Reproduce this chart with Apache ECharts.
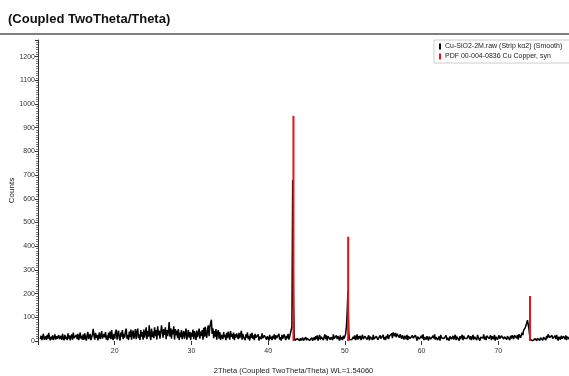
<!DOCTYPE html>
<html>
<head>
<meta charset="utf-8">
<script src="https://cdn.jsdelivr.net/npm/echarts@6/dist/echarts.min.js"></script>
<style>
html, body { margin: 0; padding: 0; background: #fff; }
#chart { width: 569px; height: 376px; }
</style>
</head>
<body>
<div id="chart"></div>
<script>
// scan grid: 2Theta starts at 10.3 deg, step 0.1 deg
var scanStart = 10.3;
var scanStep = 0.1;
// counts, one row per degree (.0 ... .9)
var counts = [
    8, 22, 4, 18, 30, 6, 14,                    // 10 (from 10.3)
    20, 5, 26, 10, 34, 12, 3, 18, 7, 24,        // 11
    4, 16, 28, 6, 20, 10, 2, 25, 8, 14,         // 12
    22, 5, 30, 12, 3, 26, 9, 18, 4, 32,         // 13
    10, 24, 3, 18, 28, 6, 35, 12, 4, 20,        // 14
    26, 8, 30, 4, 16, 36, 10, 22, 5, 28,        // 15
    6, 32, 14, 2, 24, 38, 8, 18, 30, 4,         // 16
    12, 28, 51, 20, 6, 34, 14, 26, 3, 18,       // 17
    36, 8, 22, 42, 10, 4, 30, 16, 38, 6,        // 18
    24, 3, 34, 12, 40, 8, 46, 14, 4, 30,        // 19
    10, 38, 48, 6, 30, 44, 12, 2, 36, 18,       // 20
    46, 8, 30, 14, 42, 52, 10, 26, 4, 40,       // 21
    16, 48, 6, 34, 44, 10, 24, 50, 8, 36,       // 22
    52, 12, 28, 4, 46, 18, 38, 6, 48, 14,       // 23
    34, 58, 8, 42, 18, 66, 26, 4, 52, 16,       // 24
    40, 12, 58, 20, 46, 6, 62, 24, 44, 10,      // 25
    36, 66, 72, 14, 50, 26, 58, 8, 46, 20,      // 26
    42, 80, 18, 54, 10, 48, 28, 62, 6, 50,      // 27
    24, 44, 12, 50, 4, 36, 16, 46, 8, 30,       // 28
    42, 10, 32, 52, 6, 26, 46, 14, 38, 4,       // 29
    36, 18, 48, 8, 42, 28, 4, 44, 16, 32,       // 30
    52, 10, 40, 22, 46, 6, 56, 18, 60, 26,      // 31
    14, 50, 66, 20, 58, 74, 90, 30, 54, 12,     // 32
    42, 18, 50, 6, 34, 46, 10, 38, 4, 26,       // 33
    30, 8, 38, 16, 26, 4, 34, 12, 40, 20,       // 34
    6, 42, 18, 30, 10, 36, 4, 28, 14, 32,       // 35
    20, 8, 34, 12, 26, 43, 6, 30, 16, 24,       // 36
    4, 28, 14, 36, 8, 22, 2, 30, 12, 34,        // 37
    10, 24, 4, 30, 14, 20, 6, 28, 2, 18,        // 38
    26, 8, 32, 12, 4, 24, 16, 30, 6, 20,        // 39
    12, 2, 26, 8, 18, 4, 22, 10, 28, 6,         // 40
    24, 12, 4, 20, 30, 6, 16, 2, 26, 10,        // 41
    8, 28, 14, 4, 22, 12, 30, 6, 18, 10,        // 42
    20, 60, 680, 180, 15, 3, 8, 2, 10, 4,       // 43
    6, 1, 12, 3, 8, 14, 2, 10, 4, 16,           // 44
    3, 12, 6, 18, 2, 10, 5, 14, 1, 8,           // 45
    16, 4, 20, 8, 24, 2, 14, 26, 6, 18,         // 46
    10, 22, 4, 18, 28, 8, 24, 2, 20, 12,        // 47
    26, 6, 16, 22, 4, 28, 10, 18, 3, 24,        // 48
    8, 20, 12, 2, 24, 6, 16, 4, 22, 10,         // 49
    15, 30, 60, 120, 210, 40, 5, 2, 10, 6,      // 50
    3, 18, 8, 24, 4, 14, 28, 6, 20, 10,         // 51
    22, 4, 16, 26, 8, 2, 20, 12, 24, 6,         // 52
    14, 24, 3, 18, 10, 22, 5, 26, 8, 16,        // 53
    4, 20, 28, 6, 14, 2, 24, 10, 18, 8,         // 54
    26, 6, 16, 4, 22, 12, 28, 8, 20, 14,        // 55
    24, 32, 12, 36, 38, 20, 34, 16, 30, 26,     // 56
    36, 14, 28, 34, 10, 24, 30, 6, 22, 18,      // 57
    8, 26, 4, 20, 28, 10, 16, 2, 24, 12,        // 58
    20, 6, 24, 14, 2, 18, 26, 8, 12, 4,         // 59
    22, 10, 28, 4, 16, 24, 6, 20, 12, 2,        // 60
    18, 26, 8, 14, 4, 22, 10, 28, 6, 16,        // 61
    24, 4, 12, 20, 2, 26, 14, 8, 22, 10,        // 62
    6, 18, 24, 4, 14, 10, 2, 20, 26, 8,         // 63
    16, 22, 6, 12, 26, 4, 18, 10, 24, 2,        // 64
    20, 8, 14, 26, 4, 22, 12, 6, 18, 10,        // 65
    2, 24, 16, 8, 20, 4, 12, 26, 6, 18,         // 66
    22, 10, 4, 26, 14, 20, 2, 16, 24, 8,        // 67
    12, 28, 6, 18, 4, 22, 14, 26, 10, 16,       // 68
    24, 4, 20, 12, 8, 26, 2, 18, 22, 6,         // 69
    14, 24, 10, 4, 22, 16, 28, 8, 18, 12,       // 70
    26, 6, 20, 14, 28, 4, 22, 10, 24, 16,       // 71
    8, 24, 18, 30, 12, 26, 6, 28, 20, 14,       // 72
    20, 35, 25, 45, 40, 55, 60, 75, 88, 70,     // 73
    50, 20, 5, 0, 3, 1, 6, 2, 10, 4,            // 74
    1, 12, 4, 8, 2, 14, 6, 10, 3, 16,           // 75
    8, 18, 4, 22, 12, 28, 34, 14, 20, 6,        // 76
    24, 10, 16, 4, 22, 8, 26, 12, 2, 18,        // 77
    14, 6, 22, 10, 2, 20, 16, 8, 24, 4,         // 78
    18, 10, 26, 6, 14, 20, 8, 16                // 79
];
// PDF 00-004-0836 Cu reference lines
var pdfAngles = [43.30, 50.43, 74.13];
var pdfIntensity = [950, 440, 190];

var xTicks = [20, 30, 40, 50, 60, 70, 80];
var yMax = 1270;

var scanData = counts.map(function (c, i) {
    return [+(scanStart + i * scanStep).toFixed(2), c];
});
var pdfData = pdfAngles.map(function (a, i) {
    return [a, pdfIntensity[i]];
});

var myChart = echarts.init(document.getElementById('chart'));
var option = {
    animation: false,
    textStyle: { fontFamily: 'Liberation Sans, Arial, sans-serif' },
    title: {
        text: '(Coupled TwoTheta/Theta)',
        left: 3,
        top: 8,
        textStyle: { fontSize: 13, fontWeight: 'bold', color: '#111' }
    },
    graphic: [{
        type: 'line',
        shape: { x1: 0, y1: 34, x2: 569, y2: 34 },
        style: { stroke: '#555', lineWidth: 1.5 }
    }],
    legend: {
        orient: 'vertical',
        left: 434,
        top: 40,
        padding: [3, 10, 3, 5],
        itemGap: 3,
        itemWidth: 2,
        itemHeight: 6,
        borderColor: '#ccc',
        borderWidth: 1,
        icon: 'rect',
        textStyle: { fontSize: 7, color: '#222', padding: [0, 0, 0, -1] },
        data: ['Cu-SiO2-2M.raw (Strip kα2) (Smooth)', 'PDF 00-004-0836 Cu Copper, syn']
    },
    grid: { left: 38, top: 40, width: 537, height: 301, outerBoundsMode: 'none', containLabel: false },
    xAxis: {
        type: 'value',
        min: 10,
        max: 80,
        interval: 10,
        name: '2Theta (Coupled TwoTheta/Theta) WL=1.54060',
        nameLocation: 'middle',
        nameGap: 26,
        nameMoveOverlap: false,
        nameTextStyle: { fontSize: 7.5, color: '#222', padding: [0, 26, 0, 0] },
        axisLine: { show: false },
        axisTick: { show: true, length: 4, lineStyle: { color: '#333' } },
        axisLabel: {
            fontSize: 7, color: '#333', margin: 7,
            formatter: function (v) { return xTicks.indexOf(v) >= 0 ? String(v) : ''; }
        },
        splitLine: { show: false }
    },
    yAxis: {
        type: 'value',
        min: 0,
        max: yMax,
        interval: 100,
        name: 'Counts',
        nameLocation: 'middle',
        nameGap: 22,
        nameMoveOverlap: false,
        nameTextStyle: { fontSize: 8, color: '#222' },
        axisLine: { show: true, lineStyle: { color: '#333', width: 1 } },
        axisTick: { show: true, length: 3, lineStyle: { color: '#333' } },
        minorTick: { show: true, splitNumber: 10, length: 2, lineStyle: { color: '#777' } },
        axisLabel: {
            fontSize: 7, color: '#333', margin: 3, showMaxLabel: false,
            formatter: function (v) { return v % 100 === 0 ? String(v) : ''; }
        },
        splitLine: { show: false }
    },
    series: [
        {
            name: 'Cu-SiO2-2M.raw (Strip kα2) (Smooth)',
            type: 'line',
            data: scanData,
            showSymbol: false,
            sampling: 'none',
            itemStyle: { color: '#000' },
            lineStyle: { color: '#000', width: 1.5 },
            z: 2
        },
        {
            name: 'PDF 00-004-0836 Cu Copper, syn',
            type: 'bar',
            data: pdfData,
            barWidth: 2,
            itemStyle: { color: '#e8101a' },
            z: 3
        }
    ]
};
option && myChart.setOption(option);
</script>
</body>
</html>
